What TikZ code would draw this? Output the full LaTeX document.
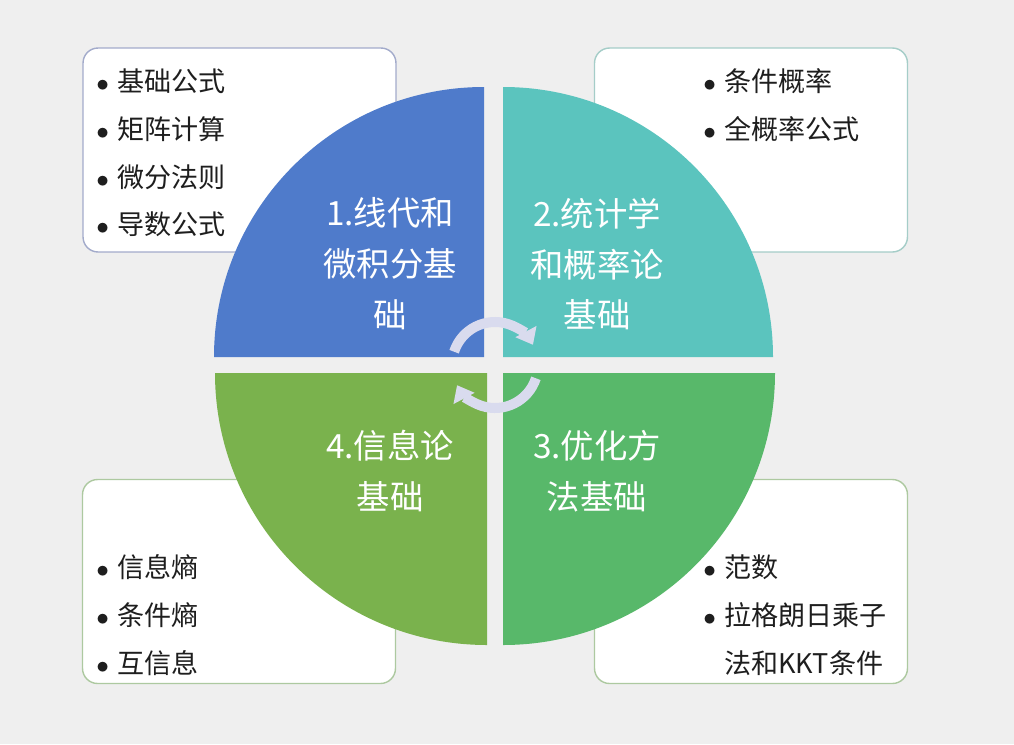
\documentclass[tikz,border=0pt]{standalone}
\usepackage{fontspec}
\setmainfont{Noto Sans CJK SC}
\usepackage{xcolor}
\usetikzlibrary{arrows.meta,positioning}
\definecolor{bgGray}{HTML}{EFEFEF}
\definecolor{qBlue}{HTML}{4F7BCB}
\definecolor{qTeal}{HTML}{5BC4BE}
\definecolor{qLime}{HTML}{7AB24D}
\definecolor{qGreen}{HTML}{58B86A}
\definecolor{cycLav}{HTML}{D9DBEE}
\definecolor{itemInk}{HTML}{1E1E1E}
\definecolor{lineBlue}{HTML}{A3ABCB}
\definecolor{lineTeal}{HTML}{A5CDC8}
\definecolor{lineGreen}{HTML}{ADC9A0}
\newcommand{\itm}[1]{\makebox[0.42cm][l]{$\bullet$}#1}
\tikzset{
  listbox/.style={rectangle,rounded corners=0.3cm,
    minimum width=6.26cm,minimum height=4.08cm,
    fill=white,line width=0.8pt},
  itemlist/.style={anchor=north west,inner sep=0pt,align=left,
    font=\fontsize{15.4pt}{27.3pt}\selectfont,text=itemInk},
  qlabel/.style={align=center,inner sep=0pt,
    font=\fontsize{19pt}{29pt}\selectfont,text=white},
  cyc/.style={line width=0.2cm,color=cycLav,
    -{Triangle[width=0.46cm,length=0.3cm]}},
}

\begin{document}
\begin{tikzpicture}[x=0.02cm,y=0.02cm]

  \useasboundingbox (0,0) rectangle (1014,-744);
  \fill[bgGray] (0,0) rectangle (1014,-744);

  % side boxes
  \node[listbox,draw=lineBlue]  (boxA) at (239.5,-150) {};
  \node[listbox,draw=lineTeal]  (boxB) at (751,-150) {};
  \node[listbox,draw=lineGreen] (boxD) at (239,-581.5) {};
  \node[listbox,draw=lineGreen] (boxC) at (751,-581.5) {};

  \node[itemlist] (listA) at (96,-68)
    {\itm{基础公式}\\\itm{矩阵计算}\\\itm{微分法则}\\\itm{导数公式}};
  \node[itemlist] (listB) at (703,-68)
    {\itm{条件概率}\\\itm{全概率公式}};
  \node[itemlist] (listD) at (96,-554)
    {\itm{信息熵}\\\itm{条件熵}\\\itm{互信息}};
  \node[itemlist] (listC) at (703,-554)
    {\itm{范数}\\\itm{拉格朗日乘子}\\\hspace{0.42cm}法和KKT条件};

  % quarter discs
  \fill[qBlue]  (484,-357) -- (214,-357) arc[start angle=180,end angle=90,radius=270] -- cycle;
  \fill[qTeal]  (503,-357) -- (773,-357) arc[start angle=0,end angle=90,radius=270] -- cycle;
  \fill[qLime]  (487,-373) -- (215,-373) arc[start angle=180,end angle=270,radius=272] -- cycle;
  \fill[qGreen] (503,-373) -- (775,-373) arc[start angle=0,end angle=-90,radius=272] -- cycle;

  \node[qlabel] (lbl1) at (390,-264) {1.线代和\\微积分基\\础};
  \node[qlabel] (lbl2) at (597,-264) {2.统计学\\和概率论\\基础};
  \node[qlabel] (lbl4) at (390,-471) {4.信息论\\基础};
  \node[qlabel] (lbl3) at (597,-471) {3.优化方\\法基础};

  % cycle arrows
  \coordinate (ctr) at (495,-365);
  \draw[cyc] ([shift={(162:43)}]ctr) arc[start angle=162,end angle=28,radius=43];
  \draw[cyc] ([shift={(-18:43)}]ctr) arc[start angle=-18,end angle=-152,radius=43];

\end{tikzpicture}
\end{document}
